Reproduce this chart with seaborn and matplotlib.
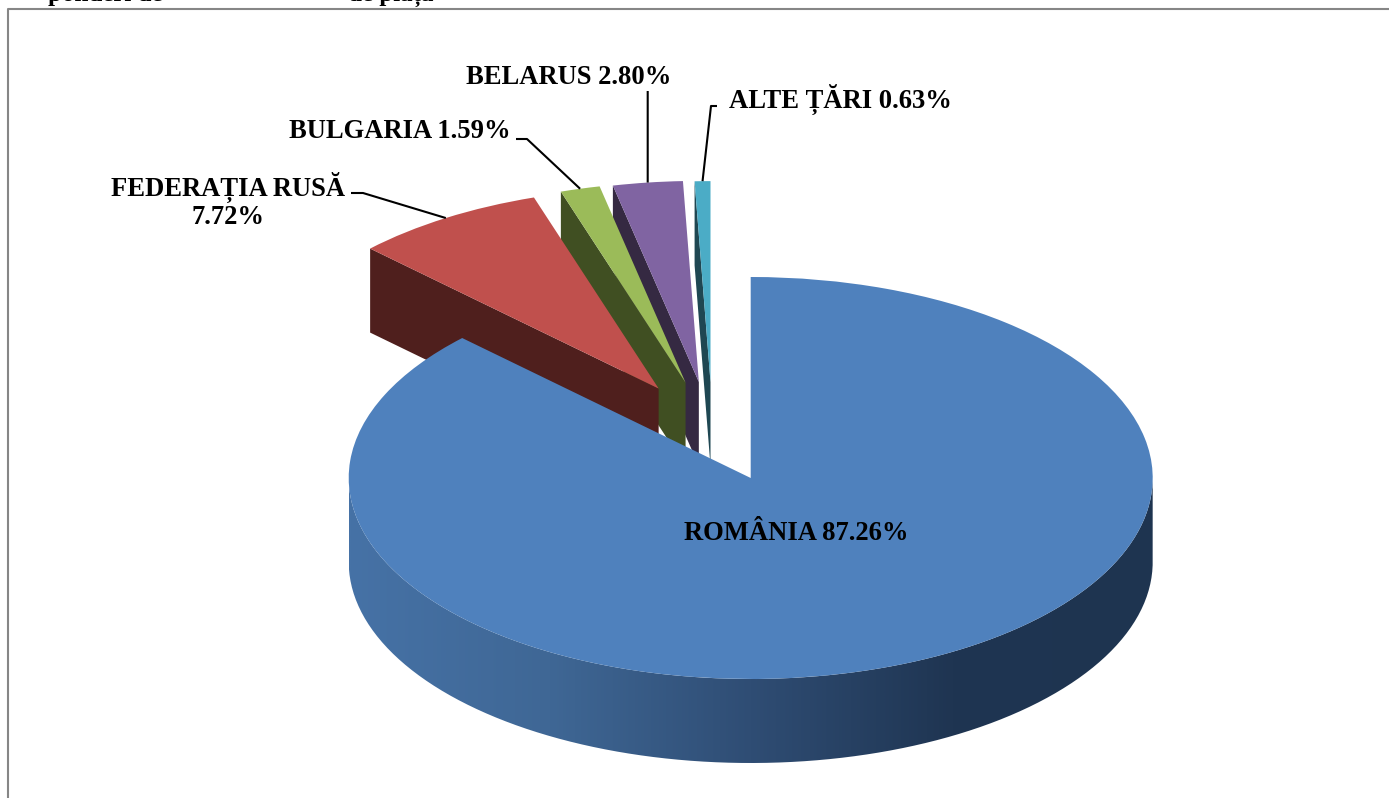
#%% LIB
import numpy as np
import matplotlib
matplotlib.use("Agg")
import matplotlib.pyplot as plt
from matplotlib.colors import LinearSegmentedColormap
from matplotlib.patches import PathPatch, Polygon, Wedge
from matplotlib.path import Path
import seaborn as sns

#%% DATA
countries = ["ROMÂNIA", "FEDERAȚIA RUSĂ", "BULGARIA", "BELARUS", "ALTE ȚĂRI"]
shares = [87.26, 7.72, 1.59, 2.80, 0.63]
share_labels = ["87.26%", "7.72%", "1.59%", "2.80%", "0.63%"]

#%% CONFIG
W, H = 1389, 798
CENTER_X, CENTER_Y = 750.7, 478  # pixel position of the pie centre
RX, RY = 402, 201  # tilted pie: x and y radius in pixels
DEPTH = 84 / RY

top_colors = ["#4F81BD", "#C0504D", "#9BBB59", "#8064A2", "#4BACC6"]
side_colors = ["#1F3552", "#4F1F1D", "#404F22", "#352942", "#1F4752"]
# slices are pulled out by hand, in pie radius units
pull_x = [0, -0.229, -0.162, -0.129, -0.100]
pull_y = [0, 0.445, 0.474, 0.478, 0.477]


def px(x, y):
    return (x - CENTER_X) / RX, (CENTER_Y - y) / RY


def rim(clock_deg):
    # point on the unit rim, clock angle from 12 o'clock
    a = np.radians(clock_deg)
    return np.sin(a), np.cos(a)


sns.set_theme(style="white")
plt.rcParams["font.family"] = ["Liberation Serif", "DejaVu Serif"]
plt.rcParams["font.weight"] = "bold"

fig = plt.figure(figsize=(W / 100, H / 100), dpi=100)
ax = fig.add_axes([0, 0, 1, 1])
ax.set_axis_off()
x0, y0 = px(0, H)
x1, y1 = px(W, 0)

#%% SLICES
edges = np.concatenate([[0], np.cumsum(shares) / np.sum(shares) * 360])

# back to front, so Romania lies on top of the pulled slices
for i in range(len(shares) - 1, -1, -1):
    start, end = edges[i], edges[i + 1]
    cx, cy = pull_x[i], pull_y[i]
    if i > 0:
        ox, oy = rim(start)
        ax.add_patch(Polygon(
            [(cx + ox, cy + oy), (cx, cy), (cx, cy - DEPTH), (cx + ox, cy + oy - DEPTH)],
            facecolor=side_colors[i],
            edgecolor="none",
            zorder=10 + 2 * (len(shares) - i)
            ))
    ax.add_patch(Wedge(
        (cx, cy), 1, 90 - end, 90 - start,
        facecolor=top_colors[i],
        edgecolor="none",
        zorder=11 + 2 * (len(shares) - i)
        ))

# front wall of the big slice with its shading
t = np.linspace(np.pi, 2 * np.pi, 200)
wall_x = np.concatenate([np.cos(t), np.cos(t[::-1])])
wall_y = np.concatenate([np.sin(t), np.sin(t[::-1]) - DEPTH])
wall = PathPatch(Path(np.column_stack([wall_x, wall_y])), transform=ax.transData,
                 facecolor="none", edgecolor="none")
ax.add_patch(wall)
shade = sns.blend_palette(["#4672A6", "#3F6795", "#2F4D74", "#1F3552", "#1E3450"], 256)
cmap = LinearSegmentedColormap.from_list("wall", shade)
gradient = np.linspace(0, 1, 512).reshape(1, -1)
img = ax.imshow(gradient, cmap=cmap, extent=(-1, 1, -1 - DEPTH, 0),
                aspect="auto", zorder=19, interpolation="bilinear")
img.set_clip_path(wall)

ax.set_xlim(x0, x1)
ax.set_ylim(y0, y1)

#%% LABELS
FONT = 19.2
ax.text(*px(796, 533), f"{countries[0]} {share_labels[0]}", fontsize=FONT,
        ha="center", va="center", color="black", zorder=30)
ax.text(*px(345, 187), countries[1], fontsize=FONT, ha="right", va="center", color="black")
ax.text(*px(228, 217), share_labels[1], fontsize=FONT, ha="center", va="center", color="black")
ax.text(*px(511, 132), f"{countries[2]} {share_labels[2]}", fontsize=FONT,
        ha="right", va="center", color="black")
ax.text(*px(569, 78), f"{countries[3]} {share_labels[3]}", fontsize=FONT,
        ha="center", va="center", color="black")
ax.text(*px(729, 99), f"{countries[4]} {share_labels[4]}", fontsize=FONT,
        ha="left", va="center", color="black")

# leader lines end on the middle of each slice's rim
leader_start = [None, (351, 193), (516, 139), (647.7, 91), (717, 106)]
leader_elbow = [None, (363, 193), (527, 139), (647.7, 91), (711, 106)]
for i in range(1, len(shares)):
    mx, my = rim((edges[i] + edges[i + 1]) / 2)
    tip = (pull_x[i] + mx, pull_y[i] + my)
    a, b = px(*leader_start[i]), px(*leader_elbow[i])
    ax.plot([a[0], b[0], tip[0]], [a[1], b[1], tip[1]],
            color="black", lw=1.5, zorder=25, solid_capstyle="butt")

#%% FRAME
ax.plot(*zip(px(8, H), px(8, 8.5), px(W, 8.5)), color="#868686", lw=1.5, zorder=40)

# line of the page text above the chart, cut off by the image edge
ax.text(*px(48, 1), "ponderi de", fontsize=18, ha="left", va="baseline", color="black")
ax.text(*px(348, 1), "de piață", fontsize=18, ha="left", va="baseline", color="black")

fig.savefig("out.png", dpi=100)
